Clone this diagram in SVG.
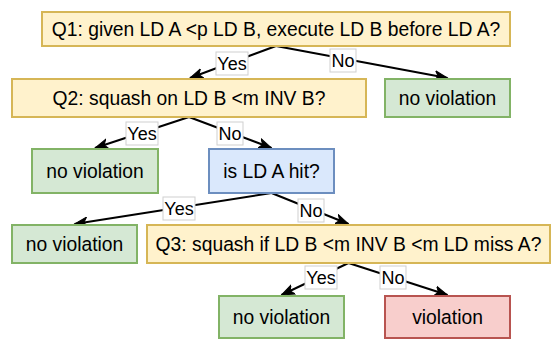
<svg xmlns="http://www.w3.org/2000/svg" width="551" height="339" viewBox="0 0 551 339">
<style>
  .t { font-family: "Liberation Sans", Arial, Helvetica, sans-serif; font-size: 19.3px; fill: #000; text-anchor: middle; }
  .lt { font-family: "Liberation Sans", Arial, Helvetica, sans-serif; font-size: 18px; fill: #000; text-anchor: middle; }
  .y { fill: #fff2cc; stroke: #d6b656; stroke-width: 2; }
  .g { fill: #d5e8d4; stroke: #82b366; stroke-width: 2; }
  .b { fill: #dae8fc; stroke: #6c8ebf; stroke-width: 2; }
  .r { fill: #f8cecc; stroke: #b85450; stroke-width: 2; }
  .e { stroke: #000; stroke-width: 2; fill: none; marker-end: url(#arr); }
  .lb { fill: #fff; stroke: #cfcfcf; stroke-width: 1; }
</style>
<defs>
  <marker id="arr" markerUnits="userSpaceOnUse" markerWidth="14" markerHeight="12" viewBox="0 0 14 12" refX="13" refY="6" orient="auto">
    <path d="M0,1 L13,6 L0,11 L3.5,6 Z" fill="#000" stroke="#000" stroke-width="1"/>
  </marker>
</defs>
<rect x="0" y="0" width="551" height="339" fill="#fff"/>
<g id="connectors">
  <line class="e" x1="276" y1="46" x2="190" y2="78"/>
  <line class="e" x1="276" y1="46" x2="447.5" y2="78"/>
  <line class="e" x1="189" y1="117" x2="95" y2="148"/>
  <line class="e" x1="189" y1="117" x2="271.5" y2="148"/>
  <line class="e" x1="271.5" y1="193" x2="74.5" y2="224"/>
  <line class="e" x1="271.5" y1="193" x2="348.5" y2="224"/>
  <line class="e" x1="348.5" y1="263" x2="281.5" y2="295"/>
  <line class="e" x1="348.5" y1="263" x2="447.5" y2="295"/>
  <g id="labels">
    <rect class="lb" x="216" y="52" width="32" height="23"/><text class="lt" x="232" y="70">Yes</text>
    <rect class="lb" x="330" y="49" width="26" height="23"/><text class="lt" x="343" y="67">No</text>
    <rect class="lb" x="126" y="122" width="32" height="23"/><text class="lt" x="142" y="140">Yes</text>
    <rect class="lb" x="217" y="122" width="26" height="23"/><text class="lt" x="230" y="140">No</text>
    <rect class="lb" x="163" y="197" width="32" height="23"/><text class="lt" x="179" y="215">Yes</text>
    <rect class="lb" x="298" y="199" width="26" height="23"/><text class="lt" x="311" y="217">No</text>
    <rect class="lb" x="305" y="266" width="32" height="23"/><text class="lt" x="321" y="284">Yes</text>
    <rect class="lb" x="380" y="266" width="26" height="23"/><text class="lt" x="393" y="284">No</text>
  </g>
</g>
<g id="q1"><rect class="y" x="42" y="12" width="468" height="34"/><text class="t" x="276" y="35.5">Q1: given LD A &lt;p LD B, execute LD B before LD A?</text></g>
<g id="q2"><rect class="y" x="12" y="79" width="354" height="38"/><text class="t" x="189" y="104.5">Q2: squash on LD B &lt;m INV B?</text></g>
<g id="nv1"><rect class="g" x="385" y="79" width="125" height="38"/><text class="t" x="447.5" y="104.5">no violation</text></g>
<g id="nv2"><rect class="g" x="32" y="149" width="126" height="44"/><text class="t" x="95" y="177.5">no violation</text></g>
<g id="hit"><rect class="b" x="209" y="149" width="125" height="44"/><text class="t" x="271.5" y="177.5">is LD A hit?</text></g>
<g id="nv3"><rect class="g" x="12" y="225" width="125" height="38"/><text class="t" x="74.5" y="250.5">no violation</text></g>
<g id="q3"><rect class="y" x="147" y="225" width="403" height="38"/><text class="t" x="348.5" y="250.5">Q3: squash if LD B &lt;m INV B &lt;m LD miss A?</text></g>
<g id="nv4"><rect class="g" x="219" y="296" width="125" height="42"/><text class="t" x="281.5" y="323.5">no violation</text></g>
<g id="vio"><rect class="r" x="385" y="296" width="125" height="42"/><text class="t" x="447.5" y="323.5">violation</text></g>
</svg>
